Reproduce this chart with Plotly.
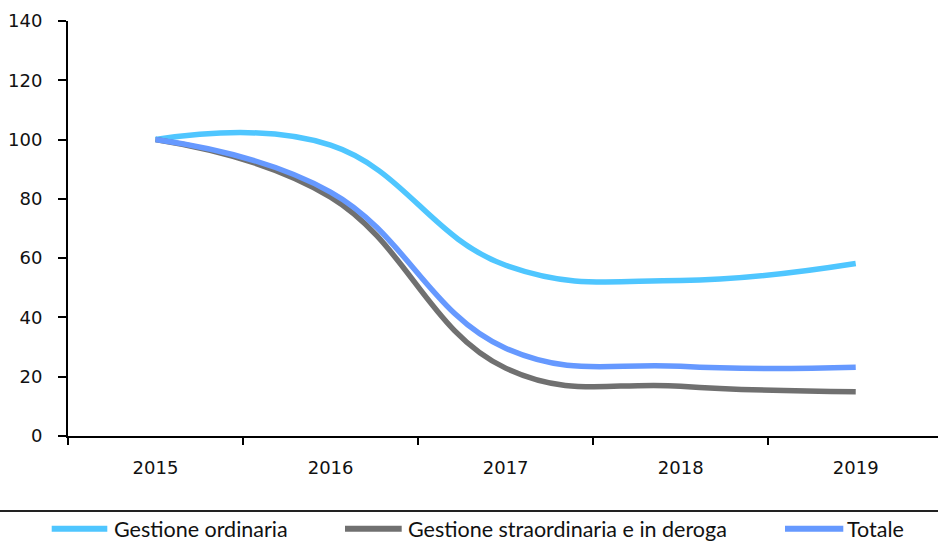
import plotly.graph_objects as go

# Index values (2015 = 100)
years = ["2015", "2016", "2017", "2018", "2019"]
ordinaria = [100, 98.1, 57.6, 52.5, 58.2]
straordinaria = [100, 80.6, 22.9, 16.8, 14.9]
totale = [100, 82.3, 29.6, 23.5, 23.2]

y_ticks = [0, 20, 40, 60, 80, 100, 120, 140]

series = [
    ("Gestione ordinaria", ordinaria, "#4FC6FF"),
    ("Gestione straordinaria e in deroga", straordinaria, "#707070"),
    ("Totale", totale, "#6699FF"),
]

W, H = 938, 543
L, T = 68, 20.7
PLOT_W, PLOT_H = 870, 415


def px_x(px):
    return (px - L) / PLOT_W


def px_y(py):
    return (T + PLOT_H - py) / PLOT_H


fig = go.Figure()
for name, vals, color in series:
    fig.add_trace(go.Scatter(
        x=years, y=vals, name=name, mode="lines",
        line=dict(color=color, width=5.5, shape="spline", smoothing=1.2),
        showlegend=False,
    ))

tick_font = dict(family="DejaVu Sans", size=18, color="#111111")

fig.update_layout(
    width=W, height=H,
    margin=dict(l=L, r=0, t=T, b=H - T - PLOT_H),
    paper_bgcolor="white", plot_bgcolor="white",
    xaxis=dict(
        type="category", range=[-0.5, 4.47],
        showgrid=False, zeroline=False,
        showline=True, linecolor="#000000", linewidth=2,
        ticks="outside", tickson="boundaries", ticklen=7, tickwidth=2,
        tickcolor="#000000", tickfont=tick_font, ticklabelstandoff=14,
    ),
    yaxis=dict(
        range=[0, 140], tickvals=y_ticks,
        showgrid=False, zeroline=False,
        showline=True, linecolor="#000000", linewidth=2,
        ticks="outside", ticklen=8, tickwidth=2, tickcolor="#000000",
        tickfont=tick_font, ticklabelstandoff=12,
    ),
)

# Separator above the legend
fig.add_shape(type="line", xref="paper", yref="paper",
              x0=px_x(0), x1=px_x(W), y0=px_y(510.7), y1=px_y(510.7),
              line=dict(color="#222222", width=2))

# Legend row: swatch + label for each series
legend_pos = [(51.7, 107.3, 112.7), (345, 401.7, 406.7), (785, 843.3, 846)]
legend_y = 528.5
for (name, _, color), (s0, s1, tx) in zip(series, legend_pos):
    fig.add_shape(type="line", xref="paper", yref="paper",
                  x0=px_x(s0), x1=px_x(s1), y0=px_y(legend_y), y1=px_y(legend_y),
                  line=dict(color=color, width=6))
    fig.add_annotation(xref="paper", yref="paper", x=px_x(tx - 1), y=px_y(legend_y),
                       text=name, showarrow=False, xanchor="left", yanchor="middle",
                       font=dict(family="Lato", size=21.5, color="#111111"))

fig.write_html("out.html")
